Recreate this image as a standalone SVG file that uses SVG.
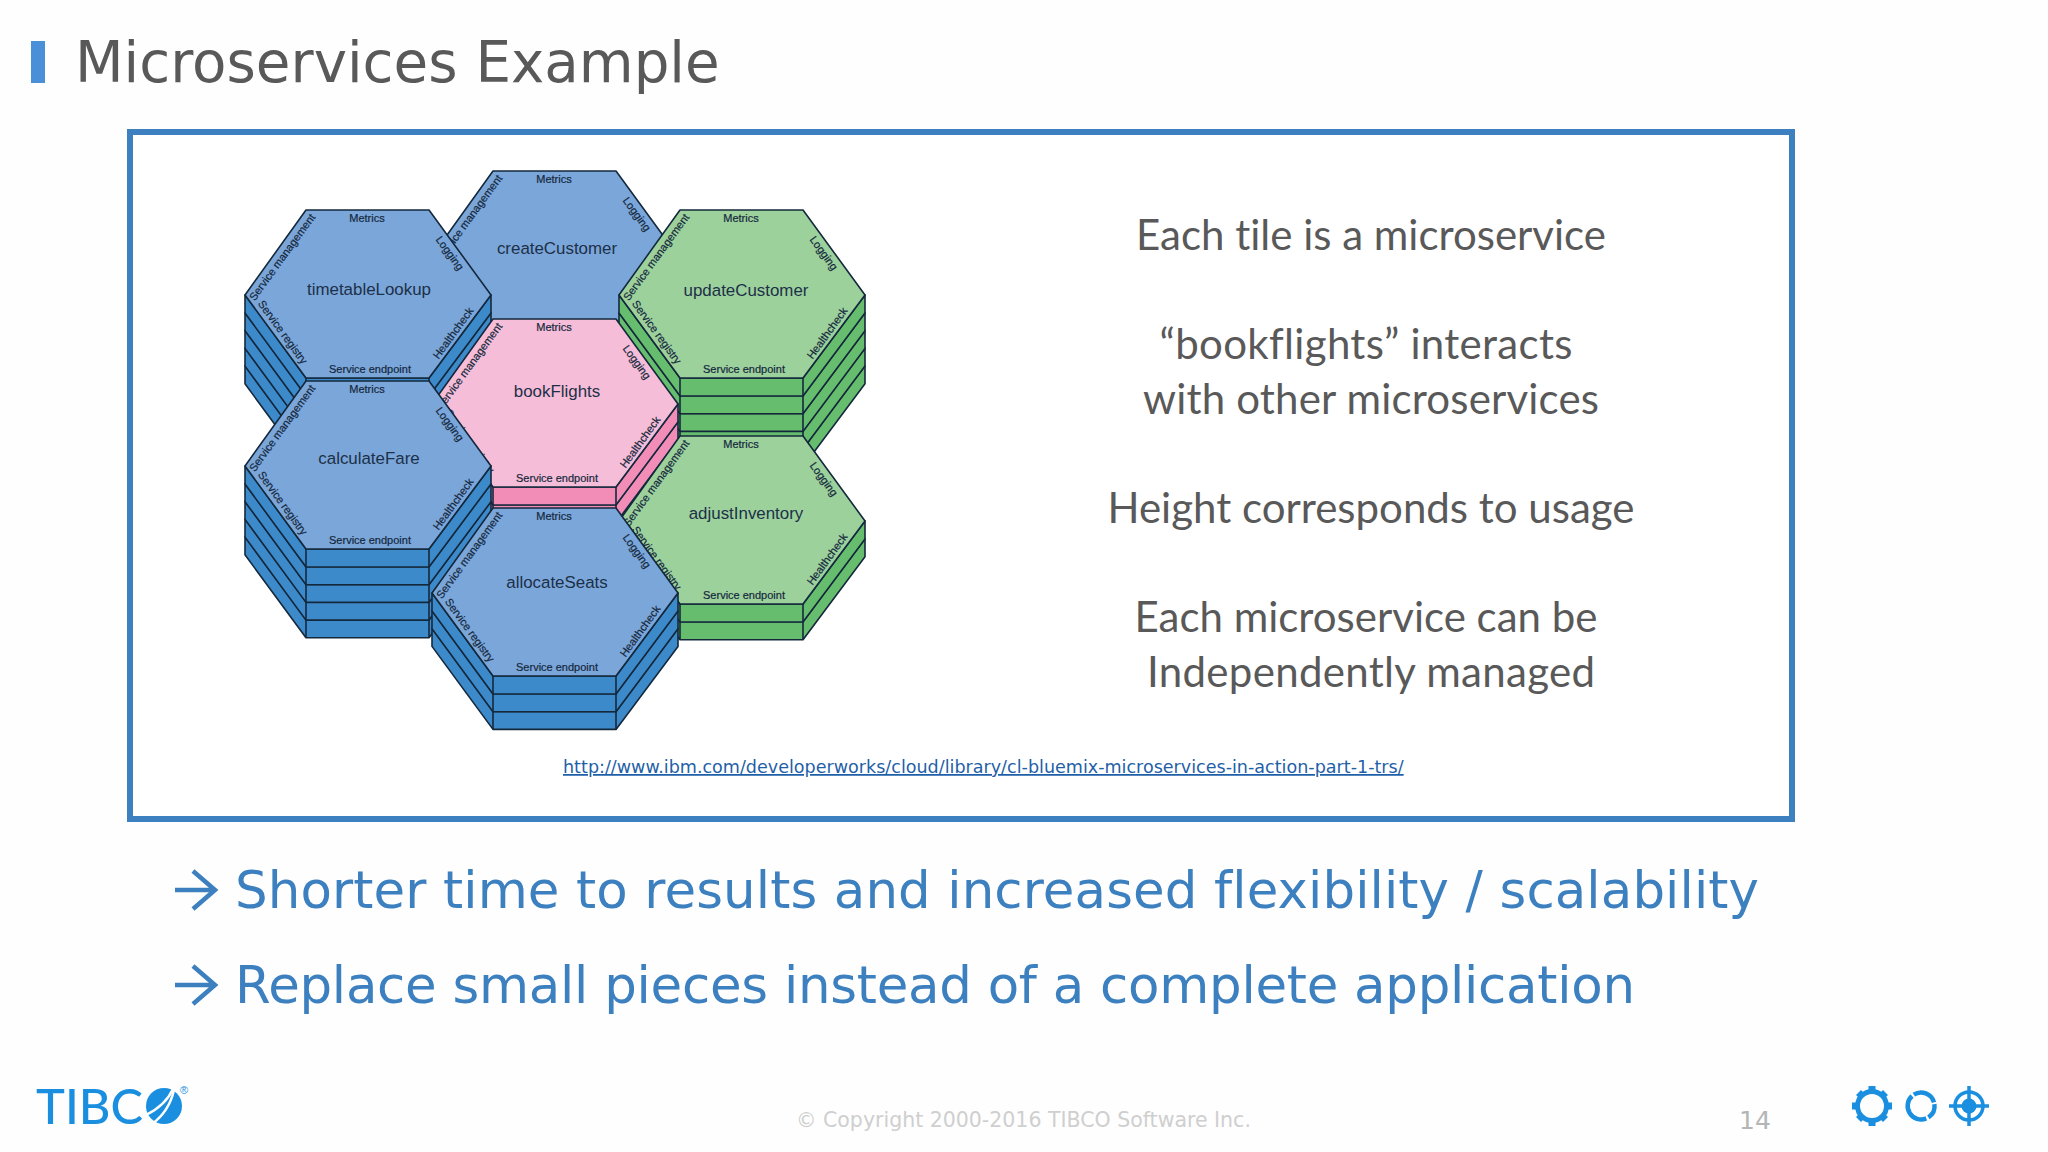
<svg xmlns="http://www.w3.org/2000/svg" width="2048" height="1152" viewBox="0 0 2048 1152">
<style>
.top{fill:var(--t);stroke:#14283c;stroke-width:1.6;stroke-linejoin:round}
.side{fill:var(--s);stroke:#14283c;stroke-width:1.6;stroke-linejoin:round}
.edge{fill:none;stroke:#14283c;stroke-width:1.6}
.lb{font-family:"Liberation Sans",Arial,sans-serif;font-size:11px;fill:#14283c;text-anchor:middle;stroke:#14283c;stroke-width:.2}
.nm{font-family:"Liberation Sans",Arial,sans-serif;font-size:16.900px;fill:#1c3048;text-anchor:middle}
.sl{font-family:"DejaVu Sans",sans-serif;font-variant-ligatures:none}
.r{font-family:Lato,"Liberation Sans",sans-serif;font-size:42px;fill:#595959;text-anchor:middle;font-variant-ligatures:none}
.big{font-family:"DejaVu Sans",sans-serif;font-size:51.400px;fill:#3d80c0;font-variant-ligatures:none}
.blue{--t:#7ba6da;--s:#3d8acb}
.pink{--t:#f6bdd8;--s:#f28db8}
.green{--t:#9dd19c;--s:#66bd6e}
</style>
<defs>
<g id="layer"><path class="side" d="M0 85L61 168H184L246 85V103L184 186H61L0 103Z"/><path class="edge" d="M61 168V186M184 168V186"/></g>
<g id="labels">
<text class="lb" x="122" y="12">Metrics</text>
<text class="lb" transform="translate(205 43) rotate(54)" y="4">Logging</text>
<text class="lb" transform="translate(37 47) rotate(-54)" y="4">Service management</text>
<text class="lb" transform="translate(38 122) rotate(54)" y="4">Service registry</text>
<text class="lb" transform="translate(208 123) rotate(-54)" y="4">Healthcheck</text>
<text class="lb" x="125" y="163">Service endpoint</text>
</g>
<path id="hex" class="top" d="M0 85L61 0H184L246 85L184 168H61Z"/>
</defs>
<rect width="2048" height="1152" fill="#fefefe"/>
<rect x="31" y="41" width="14" height="42" fill="#4a90d9"/>
<text class="sl" x="75" y="82" font-size="56.300" fill="#595959">Microservices Example</text>
<rect x="130" y="132" width="1662" height="687" fill="#fff" stroke="#3d80c0" stroke-width="6"/>

<g id="createCustomer" class="blue" transform="translate(432 171)">
<use href="#layer" y="17.700"/><use href="#layer"/><use href="#hex"/><use href="#labels"/>
<text class="nm" x="125" y="83">createCustomer</text></g>
<g id="timetableLookup" class="blue" transform="translate(245 210)">
<use href="#layer" y="70.800"/><use href="#layer" y="53.100"/><use href="#layer" y="35.400"/><use href="#layer" y="17.700"/><use href="#layer"/><use href="#hex"/><use href="#labels"/>
<text class="nm" x="124" y="85">timetableLookup</text></g>
<g id="updateCustomer" class="green" transform="translate(619 210)">
<use href="#layer" y="70.800"/><use href="#layer" y="53.100"/><use href="#layer" y="35.400"/><use href="#layer" y="17.700"/><use href="#layer"/><use href="#hex"/><use href="#labels"/>
<text class="nm" x="127" y="86">updateCustomer</text></g>
<g id="bookFlights" class="pink" transform="translate(432 319)">
<use href="#layer" y="17.700"/><use href="#layer"/><use href="#hex"/><use href="#labels"/>
<text class="nm" x="125" y="78">bookFlights</text></g>
<g id="calculateFare" class="blue" transform="translate(245 381)">
<use href="#layer" y="70.800"/><use href="#layer" y="53.100"/><use href="#layer" y="35.400"/><use href="#layer" y="17.700"/><use href="#layer"/><use href="#hex"/><use href="#labels"/>
<text class="nm" x="124" y="83">calculateFare</text></g>
<g id="adjustInventory" class="green" transform="translate(619 436)">
<use href="#layer" y="17.700"/><use href="#layer"/><use href="#hex"/><use href="#labels"/>
<text class="nm" x="127" y="83">adjustInventory</text></g>
<g id="allocateSeats" class="blue" transform="translate(432 508)">
<use href="#layer" y="35.400"/><use href="#layer" y="17.700"/><use href="#layer"/><use href="#hex"/><use href="#labels"/>
<text class="nm" x="125" y="80">allocateSeats</text></g>

<g id="notes">
<text class="r" x="1371" y="250">Each tile is a microservice</text>
<text class="r" x="1366" y="359" textLength="413">“bookflights” interacts</text>
<text class="r" x="1371" y="414" textLength="456">with other microservices</text>
<text class="r" x="1371" y="523">Height corresponds to usage</text>
<text class="r" x="1366" y="632">Each microservice can be</text>
<text class="r" x="1371" y="687" textLength="448">Independently managed</text>
</g>
<text x="563" y="773" font-family="DejaVu Sans,sans-serif" font-size="17.560" fill="#1f5fa8" text-decoration="underline">http://www.ibm.com/developerworks/cloud/library/cl-bluemix-microservices-in-action-part-1-trs/</text>

<g id="arrow1" fill="none" stroke="#3d80c0" stroke-width="4.500"><path d="M175 890H214M193 871L215 890L193 909"/></g>
<g id="arrow2" fill="none" stroke="#3d80c0" stroke-width="4.500"><path d="M175 985H214M193 966L215 985L193 1004"/></g>
<text class="big" x="235" y="908" textLength="1524">Shorter time to results and increased flexibility / scalability</text>
<text class="big" x="235" y="1003" textLength="1400">Replace small pieces instead of a complete application</text>

<g id="logo">
<text x="36" y="1124" font-family="Lato,sans-serif" font-weight="500" font-size="48" fill="#1a8fe0" textLength="107" lengthAdjust="spacingAndGlyphs">TIBC</text>
<circle cx="164" cy="1106" r="18" fill="#1a8fe0"/>
<path d="M146 1115C158 1109 168 1100 173 1089" fill="none" stroke="#fff" stroke-width="2.500"/>
<path d="M152 1124C163 1116 171 1103 174 1090" fill="none" stroke="#fff" stroke-width="2.500"/>
<text x="180" y="1094" font-family="Liberation Sans,sans-serif" font-size="11" fill="#1a8fe0">®</text>
</g>
<text x="796" y="1127" font-family="DejaVu Sans,sans-serif" font-size="20.500" fill="#cfcfcf">© Copyright 2000-2016 TIBCO Software Inc.</text>
<text x="1739" y="1129" font-family="DejaVu Sans,sans-serif" font-size="25" fill="#b5b5b5">14</text>
<g id="icons" fill="none" stroke="#1a8fe0">
<circle cx="1872" cy="1106" r="14.500" stroke-width="5"/>
<path stroke-width="7" d="M1872 1086v6M1872 1120v6M1852 1106h6M1886 1106h6M1858.500 1092.500l4 4M1881.500 1115.500l4 4M1858.500 1119.500l4-4M1881.500 1096.500l4-4"/>
<path stroke-width="4.500" d="M1913.800 1094.600A13.500 13.500 0 0 1 1934 1102.300M1934.400 1104.100A13.500 13.500 0 0 1 1928.400 1117.300M1926.300 1118.400A13.500 13.500 0 0 1 1912 1096"/>
<circle cx="1969" cy="1106" r="14" stroke-width="3.500"/>
<circle cx="1969" cy="1106" r="7.500" fill="#1a8fe0" stroke="none"/>
<path stroke-width="3.500" d="M1969 1086v40M1949 1106h40"/>
</g>
</svg>
